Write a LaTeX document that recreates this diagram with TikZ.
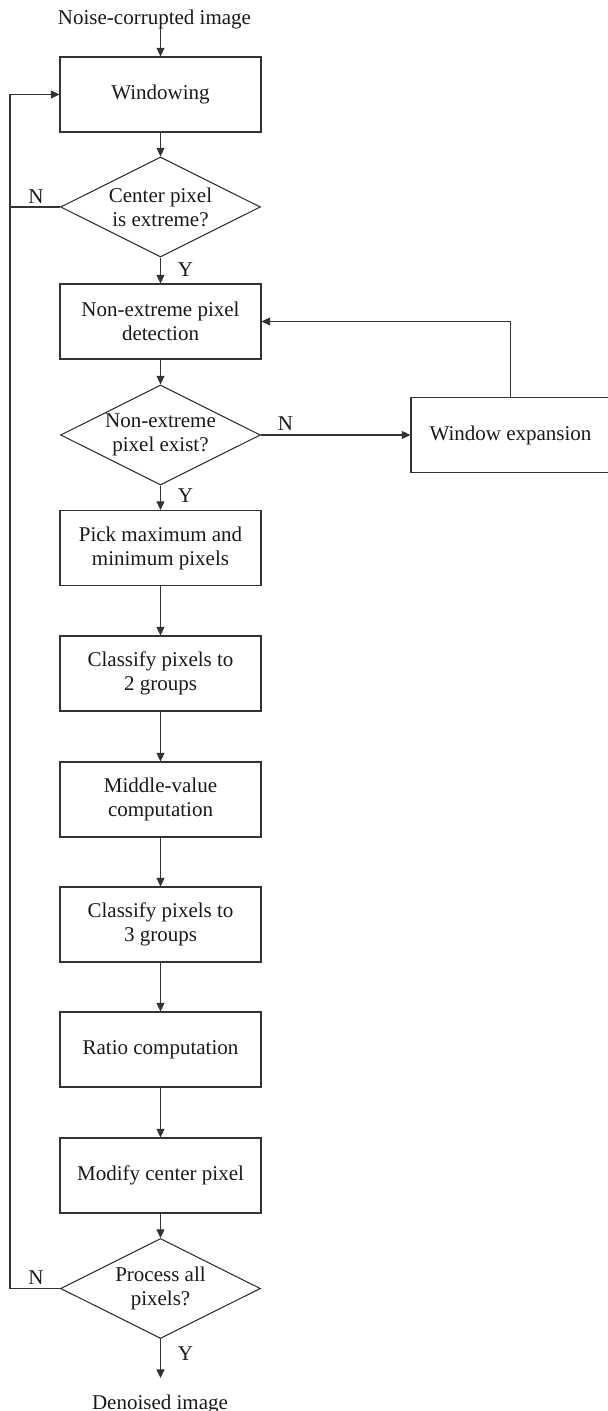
\documentclass[tikz,border=0pt]{standalone}
\usepackage{fontspec}
\setmainfont{Liberation Serif}
\usetikzlibrary{shapes.geometric,arrows.meta}
\begin{document}
\begin{tikzpicture}[x=0.5pt,y=-0.5pt,
  font=\fontsize{10.5}{12}\selectfont,
  line/.style={draw=black!80,line width=0.55pt},
  arr/.style={line,-{Triangle[length=4.3pt,width=4pt]}},
  proc/.style={draw=black!80,line width=0.55pt,rectangle,minimum width=100.5pt,minimum height=37.5pt,inner sep=0pt,align=center,text=black!90},
  dec/.style={draw=black!80,line width=0.55pt,diamond,aspect=2,minimum width=100pt,minimum height=50pt,inner sep=0pt,align=center,text=black!90},
  lbl/.style={inner sep=0pt,text=black!90}]
\useasboundingbox (0,0) rectangle (608,1411);

\node[lbl,anchor=base] (src) at (154.5,25) {Noise-corrupted image};
\coordinate (srcend) at (160.5,28);
\node[proc] (win) at (160.5,94.5) {Windowing};
\node[dec] (d1) at (160.5,207) {Center pixel\\is extreme?};
\node[proc] (det) at (160.5,321.5) {Non-extreme pixel\\detection};
\node[dec] (d2) at (160.5,435) {Non-extreme\\pixel exist?};
\node[proc,minimum width=99.5pt] (wexp) at (510.5,435) {Window expansion};
\node[proc] (pick) at (160.5,548) {Pick maximum and\\minimum pixels};
\node[proc] (cl2) at (160.5,673.5) {Classify pixels to\\2 groups};
\node[proc] (mid) at (160.5,799.5) {Middle-value\\computation};
\node[proc] (cl3) at (160.5,924.5) {Classify pixels to\\3 groups};
\node[proc] (ratio) at (160.5,1049.5) {Ratio computation};
\node[proc] (mod) at (160.5,1175.5) {Modify center pixel};
\node[dec] (d3) at (160.5,1288.5) {Process all\\pixels?};
\coordinate (dstend) at (160.5,1378);
\node[lbl,anchor=base] (dst) at (160,1409) {Denoised image};

\coordinate (lp) at (10,94.5);

\draw[arr] (srcend) -- (win);
\draw[arr] (win) -- (d1);
\draw[arr] (d1) -- (det);
\draw[arr] (det) -- (d2);
\draw[arr] (d2) -- (pick);
\draw[arr] (d2) -- (wexp);
\draw[arr] (wexp.north) |- (det.east);
\draw[arr] (pick) -- (cl2);
\draw[arr] (cl2) -- (mid);
\draw[arr] (mid) -- (cl3);
\draw[arr] (cl3) -- (ratio);
\draw[arr] (ratio) -- (mod);
\draw[arr] (mod) -- (d3);
\draw[arr] (d3) -- (dstend);
\draw[arr] (d3.west) -| (lp) -- (win.west);
\draw[line] (d1.west) -- (d1.west -| lp);

\node[lbl] (n1) at (36,197) {N};
\node[lbl] (y1) at (185.5,270) {Y};
\node[lbl] (n2) at (285.5,424) {N};
\node[lbl] (y2) at (185.5,496) {Y};
\node[lbl] (n3) at (36,1278) {N};
\node[lbl] (y3) at (185.5,1354) {Y};
\end{tikzpicture}
\end{document}
